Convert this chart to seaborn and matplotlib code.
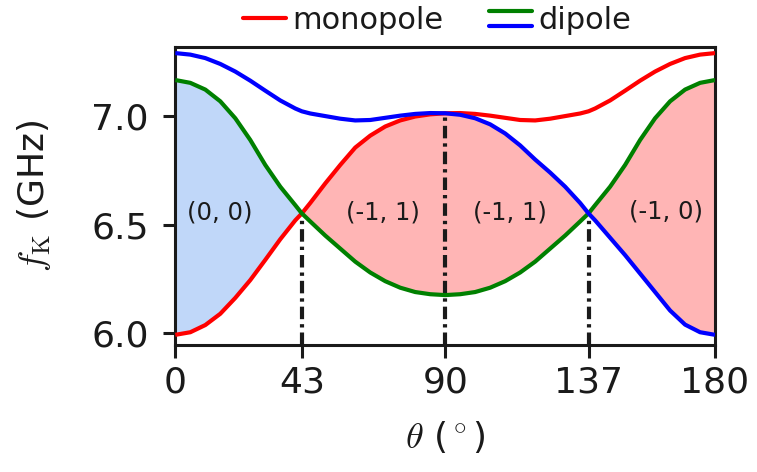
import numpy as np
import matplotlib
matplotlib.use("Agg")
import matplotlib.pyplot as plt
import seaborn as sns
from matplotlib.legend_handler import HandlerBase
from matplotlib.lines import Line2D

sns.set_theme(style="ticks")
plt.rcParams['font.family'] = ['DejaVu Sans']
plt.rcParams['mathtext.fontset'] = 'cm'
plt.rcParams['text.color'] = 'k'

# angle grid (deg), with the two crossing points
theta = [0, 5, 10, 15, 20, 25, 30, 35, 40, 42.2, 45, 50, 55, 60, 65, 70, 75, 80, 85, 90,
         95, 100, 105, 110, 115, 120, 125, 130, 135, 137.8, 140, 145, 150, 155, 160, 165, 170, 175, 180]

monopole = [5.993, 6.005, 6.038, 6.090, 6.163, 6.245, 6.338, 6.433, 6.520, 6.552, 6.600, 6.690, 6.775,
            6.855, 6.910, 6.952, 6.980, 6.998, 7.008, 7.013, 7.014, 7.010, 7.002, 6.992, 6.982, 6.980,
            6.988, 7.000, 7.012, 7.022, 7.035, 7.072, 7.117, 7.163, 7.205, 7.240, 7.267, 7.283, 7.290]

dipole_green = [7.166, 7.153, 7.122, 7.068, 6.990, 6.890, 6.775, 6.675, 6.590, 6.552, 6.515, 6.450, 6.390,
                6.330, 6.280, 6.240, 6.210, 6.190, 6.180, 6.176, 6.180, 6.190, 6.210, 6.240, 6.280, 6.330,
                6.390, 6.450, 6.515, 6.552, 6.590, 6.675, 6.775, 6.890, 6.990, 7.068, 7.122, 7.153, 7.166]

dipole_blue = [7.290, 7.283, 7.267, 7.240, 7.205, 7.163, 7.117, 7.072, 7.035, 7.022, 7.012, 7.000, 6.988,
               6.980, 6.982, 6.992, 7.002, 7.010, 7.014, 7.013, 7.006, 6.990, 6.962, 6.920, 6.865, 6.800,
               6.740, 6.675, 6.600, 6.552, 6.520, 6.440, 6.360, 6.275, 6.190, 6.105, 6.040, 6.005, 5.993]

crossings = [42.2, 90, 137.8]
crossing_f = [6.552, 7.013, 6.552]
tick_labels = ['0', '43', '90', '137', '180']

region_labels = ['(0, 0)', '(-1, 1)', '(-1, 1)', '(-1, 0)']
region_x = [14.9, 69.4, 111.6, 163.7]
region_y = [6.555, 6.555, 6.555, 6.56]


class StackedLines(HandlerBase):
    # two lines stacked on top of each other for one legend entry
    def create_artists(self, legend, orig_handle, xdescent, ydescent,
                       width, height, fontsize, trans):
        arts = []
        n = len(orig_handle)
        for i, h in enumerate(orig_handle):
            y = -ydescent + height * (0.85 - 0.7 * i / max(n - 1, 1))
            l = Line2D([-xdescent, width - xdescent], [y, y], color=h.get_color(),
                       lw=h.get_linewidth(), transform=trans)
            arts.append(l)
        return arts


fig = plt.figure(figsize=(7.57, 4.72), dpi=100)
ax = fig.add_axes([0.2316, 0.2699, 0.7130, 0.6305])

ylo, yhi = 5.948, 7.318

th = np.array(theta)
curves = np.sort(np.vstack([monopole, dipole_green, dipole_blue]), axis=0)
lo, mid = curves[0], curves[1]
ax.fill_between(th, lo, mid, where=th <= crossings[0], color='#c0d7f9', lw=0, zorder=1)
ax.fill_between(th, lo, mid, where=th >= crossings[0], color='#ffb5b5', lw=0, zorder=1)

ax.vlines(crossings, ylo, crossing_f, colors='k', linewidths=3,
          linestyles=[(0, (3.0, 1.2, 0.8, 1.2))], zorder=2)

line_kw = dict(lw=3, ax=ax, zorder=3, solid_joinstyle='round', solid_capstyle='butt')
sns.lineplot(x=theta, y=monopole, color='red', **line_kw)
sns.lineplot(x=theta, y=dipole_green, color='green', **line_kw)
sns.lineplot(x=theta, y=dipole_blue, color='blue', **line_kw)

for s, xx, yy in zip(region_labels, region_x, region_y):
    ax.text(xx, yy, s, ha='center', va='center', fontsize=17.5, color='k')

ax.set_xlim(0, 180)
ax.set_ylim(ylo, yhi)
ax.set_xticks([0] + [crossings[0], 90, crossings[2]] + [180])
ax.set_xticklabels(tick_labels)
ax.set_yticks([6.0, 6.5, 7.0])
ax.set_yticklabels(['6.0', '6.5', '7.0'])
ax.tick_params(labelsize=26, length=9, width=2.2, color='k', labelcolor='k', pad=6)
ax.tick_params(axis='y', pad=10)
for sp in ax.spines.values():
    sp.set_linewidth(2.2)
    sp.set_color('k')

ax.set_xlabel(r'$\theta$ ($^\circ$)', fontsize=26, labelpad=14, color='k')
ax.set_ylabel(r'$f_\mathrm{K}$ (GHz)', fontsize=26, labelpad=28, color='k')

h_mono = Line2D([], [], color='red', lw=3)
h_g = Line2D([], [], color='green', lw=3)
h_b = Line2D([], [], color='blue', lw=3)
ax.legend([h_mono, (h_g, h_b)], ['monopole', 'dipole'],
          handler_map={tuple: StackedLines()}, ncol=2, frameon=False,
          loc='center', bbox_to_anchor=(0.485, 1.09), fontsize=22,
          handlelength=1.4, handletextpad=0.2, columnspacing=1.5,
          borderpad=0, borderaxespad=0)

plt.savefig('out.png', dpi=100)
